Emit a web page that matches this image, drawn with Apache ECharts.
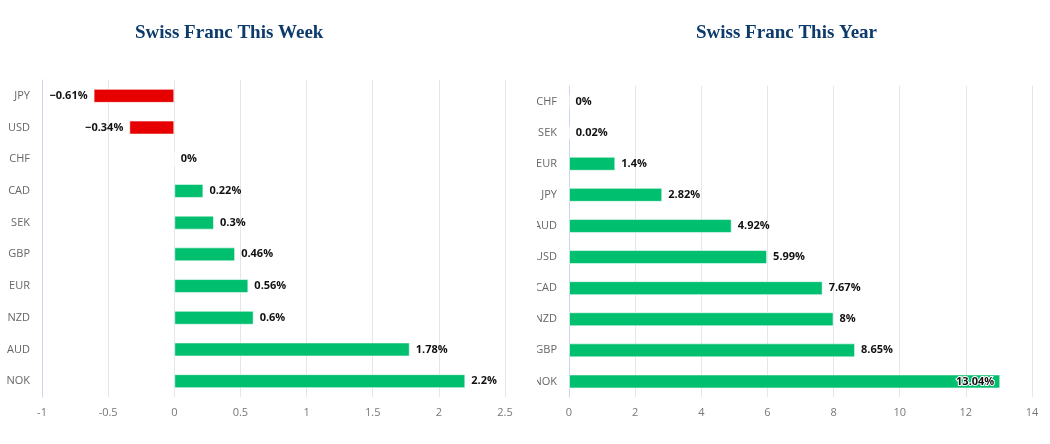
<!DOCTYPE html>
<html><head><meta charset="utf-8">
<script src="https://cdn.jsdelivr.net/npm/echarts@6/dist/echarts.min.js"></script>
<style>
html,body{margin:0;padding:0;background:#fff;width:1050px;height:444px;overflow:hidden;}
#w{position:absolute;left:0;top:0;width:525px;height:444px;}
#y{position:absolute;left:537px;top:0;width:513px;height:444px;overflow:hidden;}
</style></head>
<body>
<div id="w"></div><div id="y"></div>
<script>
const weekCategories = ['JPY','USD','CHF','CAD','SEK','GBP','EUR','NZD','AUD','NOK'];
const weekValues = [-0.61,-0.34,0,0.22,0.3,0.46,0.56,0.6,1.78,2.2];
const yearCategories = ['CHF','SEK','EUR','JPY','AUD','USD','CAD','NZD','GBP','NOK'];
const yearValues = [0,0.02,1.4,2.82,4.92,5.99,7.67,8,8.65,13.04];
const weekTicks = {min:-1,max:2.5,interval:0.5};
const yearTicks = {min:0,max:14,interval:2};

const GREEN='#00bf6f', RED='#e60000';
function fmt(v){ return (v<0 ? '\u2212'+Math.abs(v) : String(v)) + '%'; }

function build(title, titleLeft, cats, vals, ticks, grid, insideIdx){
  grid.outerBoundsMode='none';
  grid.containLabel=false;
  return {
    animation:false,
    title:{text:title,left:titleLeft,top:19,textStyle:{fontFamily:'Liberation Serif',fontWeight:'bold',fontSize:19,color:'#0c3a6b'}},
    grid:grid,
    xAxis:{type:'value',min:ticks.min,max:ticks.max,interval:ticks.interval,
      axisLine:{show:false},axisTick:{show:false},
      axisLabel:{color:'#777',fontSize:11,fontFamily:'Open Sans',margin:10},
      splitLine:{lineStyle:{color:'#e6e6e6'}}},
    yAxis:{type:'category',data:cats,inverse:true,
      axisLine:{onZero:false,lineStyle:{color:'#ccd6eb'}},
      axisTick:{lineStyle:{color:'#ccd6eb'},length:7},
      axisLabel:{color:'#666',fontSize:11,fontFamily:'Open Sans',margin:12}},
    series:[{type:'bar',barWidth:14,
      data:vals.map((v,i)=>{
        const d={value:v,itemStyle:{color:v<0?RED:GREEN,borderColor:'rgba(255,255,255,0.55)',borderWidth:1}};
        if(i===insideIdx){d.label={position:'insideRight',textBorderColor:'#fff',textBorderWidth:2};}
        else if(v<0){d.label={position:'left'};}
        return d;}),
      label:{show:true,position:'right',distance:6,color:'#111',fontWeight:'bold',fontSize:11,fontFamily:'Open Sans',
        formatter:p=>fmt(p.value)},
    }]
  };
}
const c1=echarts.init(document.getElementById('w'));
c1.setOption(build('Swiss Franc This Week',130,weekCategories,weekValues,weekTicks,{left:42,right:20,top:80,height:317},-1));
const c2=echarts.init(document.getElementById('y'));
c2.setOption(build('Swiss Franc This Year',154,yearCategories,yearValues,yearTicks,{left:32,right:18,top:86,height:311},9));
</script>
</body></html>
